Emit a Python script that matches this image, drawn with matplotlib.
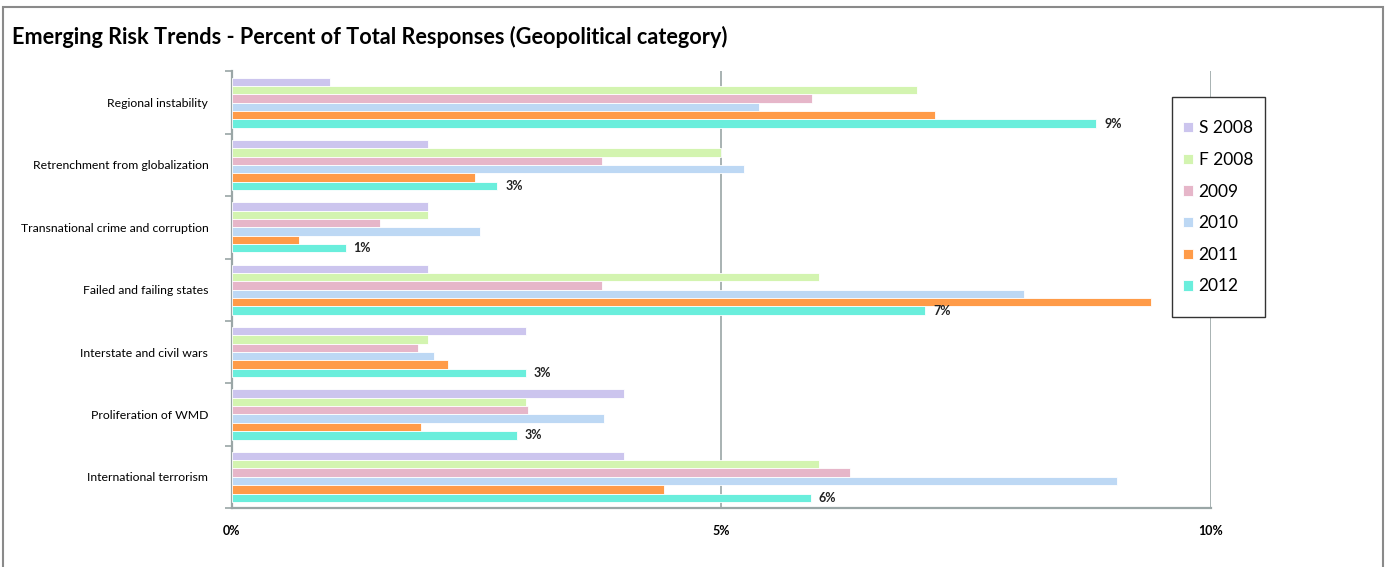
import matplotlib
matplotlib.use("Agg")
import matplotlib.pyplot as plt
from matplotlib.patches import Rectangle
import numpy as np

plt.rcParams['font.family'] = ['Lato', 'DejaVu Sans']

categories = [
    "Regional instability",
    "Retrenchment from globalization",
    "Transnational crime and corruption",
    "Failed and failing states",
    "Interstate and civil wars",
    "Proliferation of WMD",
    "International terrorism",
]
series_names = ["S 2008", "F 2008", "2009", "2010", "2011", "2012"]

s2008 = [1.0, 2.0, 2.0, 2.0, 3.0, 4.0, 4.0]
f2008 = [7.0, 5.0, 2.0, 6.0, 2.0, 3.0, 6.0]
y2009 = [5.92, 3.78, 1.51, 3.78, 1.9, 3.02, 6.31]
y2010 = [5.38, 5.23, 2.53, 8.09, 2.06, 3.8, 9.04]
y2011 = [7.18, 2.48, 0.68, 9.39, 2.21, 1.93, 4.41]
y2012 = [8.83, 2.71, 1.16, 7.08, 3.0, 2.91, 5.91]

x_ticks = [0, 5, 10]
x_tick_labels = ["0%", "5%", "10%"]

colors = ["#CCC5EE", "#D3F4B0", "#E6B6C9", "#BDD8F4", "#FF9B48", "#6AEEDC"]

fig = plt.figure(figsize=(13.88, 5.67), dpi=100)
# outer chart border
fig.patches.append(Rectangle((0.0025, -0.01), 0.994, 0.998, transform=fig.transFigure,
                             fill=False, edgecolor="#8a8a8a", linewidth=1.5))

ax = fig.add_axes([0.1671, 0.104, 0.7054, 0.770])

all_series = [s2008, f2008, y2009, y2010, y2011, y2012]
n = len(all_series)
h = 0.134
y = np.arange(len(categories))
for i, (vals, name, c) in enumerate(zip(all_series, series_names, colors)):
    ax.barh(y + (i - (n - 1) / 2) * h, vals, height=h, color=c,
            edgecolor="white", linewidth=0.6, label=name, zorder=3)

# value labels on the 2012 bars
for yi, v in zip(y, y2012):
    ax.text(v + 0.08, yi + (n - 1 - (n - 1) / 2) * h, f"{v:.0f}%",
            va="center", ha="left", fontsize=9, fontweight="bold", color="#222222")

ax.set_xlim(0, 10)
ax.set_ylim(len(categories) - 0.5, -0.5)
ax.set_xticks(x_ticks)
ax.set_xticklabels(x_tick_labels, fontsize=9, fontweight="bold")
ax.tick_params(axis="x", length=0, pad=12)
ax.set_yticks(y)
ax.set_yticklabels(categories, fontsize=8.8)
ax.tick_params(axis="y", length=0, pad=17)
ax.set_yticks(np.arange(-0.5, len(categories) + 0.5, 1), minor=True)
ax.tick_params(axis="y", which="minor", length=5, color="#9aa6a6", width=1.2)

ax.xaxis.grid(True, color="#9aa6a6", linewidth=1.2, zorder=0)
ax.set_axisbelow(True)
for side in ["top", "right"]:
    ax.spines[side].set_visible(False)
for side in ["left", "bottom"]:
    ax.spines[side].set_color("#9aa6a6")
    ax.spines[side].set_linewidth(1.6)

fig.text(0.009, 0.935, "Emerging Risk Trends - Percent of Total Responses (Geopolitical category)",
         fontsize=15.6, fontweight="bold", ha="left", va="center")

# legend box drawn separately so its padding can be set freely
fig.patches.append(Rectangle((0.8444, 0.4409), 0.0670, 0.3880, transform=fig.transFigure,
                             fill=True, facecolor="white", edgecolor="#333333",
                             linewidth=1.0, zorder=5))
leg = fig.legend(loc="upper left", bbox_to_anchor=(0.8523, 0.7877), fontsize=12.5,
                 frameon=False, handlelength=0.55, handleheight=0.55, handletextpad=0.35,
                 labelspacing=0.9, borderpad=0, borderaxespad=0)
leg.set_zorder(6)

fig.savefig("out.png", dpi=100)
